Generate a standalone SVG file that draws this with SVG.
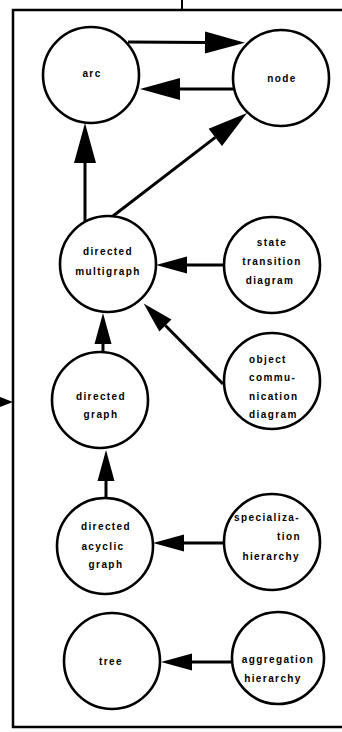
<svg xmlns="http://www.w3.org/2000/svg" width="342" height="732" viewBox="0 0 342 732">
<style>
.n{fill:#fff;stroke:#000;stroke-width:2.6}
.t{font-family:"Liberation Sans",Arial,sans-serif;font-size:10px;font-weight:bold;letter-spacing:1.4px;fill:#000}
.c{text-anchor:middle}
.e{stroke:#000;stroke-width:3;fill:none}
.frame{stroke:#000;stroke-width:2.5;fill:none}
</style>
<defs>
<marker id="big" markerUnits="userSpaceOnUse" markerWidth="42" markerHeight="24" refX="0" refY="12" orient="auto" overflow="visible"><path d="M0,1 L40,12 L0,23 z" fill="#000"/></marker>
<marker id="small" markerUnits="userSpaceOnUse" markerWidth="34" markerHeight="20" refX="0" refY="10" orient="auto" overflow="visible"><path d="M0,1.5 L31,10 L0,18.5 z" fill="#000"/></marker>
</defs>
<rect width="342" height="732" fill="#fff"/>
<g id="frame">
<path class="frame" d="M342,10 L13,10 L13,727 L342,727"/>
<line x1="182" y1="0" x2="182" y2="10" stroke="#000" stroke-width="2"/>
<path d="M0,397 L13,402 L0,407 z" fill="#000"/>
</g>
<g id="connectors">
<line class="e" x1="128" y1="42" x2="205" y2="42.5" marker-end="url(#big)"/>
<line class="e" x1="233" y1="89" x2="180" y2="89" marker-end="url(#big)"/>
<line class="e" x1="85" y1="223" x2="85" y2="163" marker-end="url(#big)"/>
<line class="e" x1="113" y1="216" x2="215.3" y2="137.4" stroke-width="5.5" marker-end="url(#big)"/>
<line class="e" x1="224" y1="265" x2="187" y2="265" stroke-width="2.5" marker-end="url(#small)"/>
<line class="e" x1="223" y1="384" x2="165.4" y2="325.5" stroke-width="2.5" marker-end="url(#small)"/>
<line class="e" x1="103" y1="352" x2="103" y2="344" stroke-width="2.5" marker-end="url(#small)"/>
<line class="e" x1="106" y1="498" x2="106" y2="481" stroke-width="2.5" marker-end="url(#small)"/>
<line class="e" x1="224" y1="543" x2="184" y2="543" stroke-width="2.5" marker-end="url(#small)"/>
<line class="e" x1="231" y1="662" x2="192" y2="662" stroke-width="2" marker-end="url(#small)"/>
</g>
<g id="arc"><circle class="n" cx="91" cy="75" r="48"/><text class="t c" x="92" y="77">arc</text></g>
<g id="node"><circle class="n" cx="281" cy="78" r="48"/><text class="t c" x="282" y="82">node</text></g>
<g id="directed-multigraph"><circle class="n" cx="108" cy="264" r="48"/>
<text class="t c" x="108" y="255">directed</text><text class="t c" x="108" y="275">multigraph</text></g>
<g id="state-transition-diagram"><circle class="n" cx="272" cy="265" r="48"/>
<text class="t c" x="272" y="246">state</text><text class="t c" x="272" y="265">transition</text><text class="t c" x="270" y="284">diagram</text></g>
<g id="object-communication-diagram"><circle class="n" cx="272" cy="381" r="48"/>
<text class="t" x="249" y="363">object</text><text class="t" x="249" y="381">commu-</text><text class="t" x="249" y="400">nication</text><text class="t" x="249" y="418">diagram</text></g>
<g id="directed-graph"><circle class="n" cx="100" cy="400" r="48"/>
<text class="t c" x="101" y="400">directed</text><text class="t c" x="101" y="418">graph</text></g>
<g id="directed-acyclic-graph"><circle class="n" cx="105" cy="546" r="48"/>
<text class="t c" x="106" y="530">directed</text><text class="t c" x="103" y="550">acyclic</text><text class="t c" x="106" y="568">graph</text></g>
<g id="specialization-hierarchy"><circle class="n" cx="272" cy="542" r="48"/>
<text class="t" x="300" y="521" text-anchor="end">specializa-</text><text class="t" x="301" y="540" text-anchor="end">tion</text><text class="t" x="300" y="560" text-anchor="end">hierarchy</text></g>
<g id="tree"><circle class="n" cx="112" cy="661" r="48"/><text class="t c" x="111" y="665">tree</text></g>
<g id="aggregation-hierarchy"><circle class="n" cx="278" cy="658" r="46"/>
<text class="t c" x="278" y="663">aggregation</text><text class="t c" x="273" y="682">hierarchy</text></g>
</svg>
